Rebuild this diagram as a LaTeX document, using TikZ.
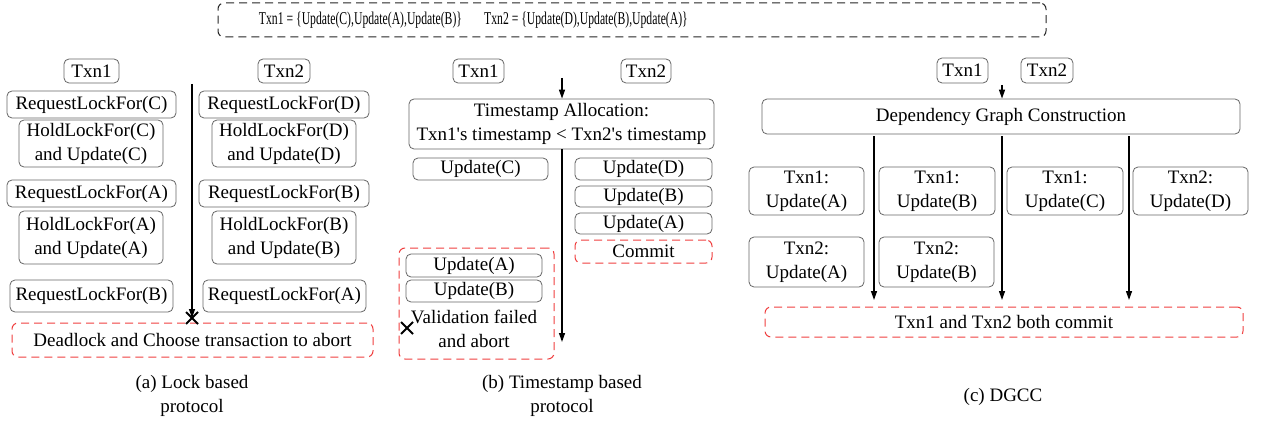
\documentclass[tikz,border=0pt]{standalone}
\usepackage{fontspec}
\setmainfont{Liberation Serif}
\newfontfamily\condfont[FakeStretch=0.65]{Liberation Serif}
\usetikzlibrary{arrows.meta}
\definecolor{boxgray}{HTML}{666666}
\definecolor{dashred}{HTML}{F04040}
\tikzset{
  base/.style={inner sep=0pt, align=center, font=\fontsize{19}{24}\selectfont},
  gbox/.style={base, draw=boxgray, line width=0.8pt, rounded corners=5pt},
  rbox/.style={base, draw=dashred, line width=1pt, rounded corners=6pt, dash pattern=on 8pt off 5pt},
  topbox/.style={base, draw=black!85, line width=1pt, rounded corners=6pt, dash pattern=on 8pt off 5pt},
  txt/.style={base},
  toptxt/.style={inner sep=0pt, font=\condfont\fontsize{18}{20}\selectfont},
  flow/.style={line width=1.3pt, -{Triangle[length=9pt,width=6pt]}},
  xmark/.style={line width=1.8pt},
}
\newcommand{\bx}[6]{\node[#1, minimum width=#4pt, minimum height=#5pt] (#2) at #3 {#6};}
\begin{document}
\begin{tikzpicture}[x=1pt,y=-1pt]
\useasboundingbox[fill=white] (0,0) rectangle (1263,422);
% top box
\bx{topbox}{top}{(632,20)}{828}{34}{}
\node[toptxt] (topl) at (360.5,20.5) {Txn1 = \{Update(C),Update(A),Update(B)\}};
\node[toptxt] (topr) at (586,20.5) {Txn2 = \{Update(D),Update(B),Update(A)\}};

% ---------------- (a)
\bx{gbox}{a1}{(91.5,71)}{55}{24}{Txn1}
\bx{gbox}{a2}{(284,71)}{52}{24}{Txn2}
\bx{gbox}{a1r1}{(91.5,104.5)}{169}{27}{RequestLockFor(C)}
\bx{gbox}{a1h1}{(91,143.5)}{144}{47}{HoldLockFor(C)\\and Update(C)}
\bx{gbox}{a1r2}{(91.5,193.5)}{169}{27}{RequestLockFor(A)}
\bx{gbox}{a1h2}{(91,237.5)}{144}{53}{HoldLockFor(A)\\and Update(A)}
\bx{gbox}{a1r3}{(91.5,296)}{163}{32}{RequestLockFor(B)}
\bx{gbox}{a2r1}{(284,104.5)}{170}{27}{RequestLockFor(D)}
\bx{gbox}{a2h1}{(284,143.5)}{144}{47}{HoldLockFor(D)\\and Update(D)}
\bx{gbox}{a2r2}{(284,193.5)}{170}{27}{RequestLockFor(B)}
\bx{gbox}{a2h2}{(284,237.5)}{144}{53}{HoldLockFor(B)\\and Update(B)}
\bx{gbox}{a2r3}{(284.5,296)}{163}{32}{RequestLockFor(A)}
\bx{rbox}{adead}{(192.5,340)}{361}{34}{Deadlock and Choose transaction to abort}
\coordinate (astart) at (192,84);
\coordinate (aend) at (192,318);
\draw[flow] (astart) -- (aend);
\draw[xmark] ([shift={(-6,-6)}]aend) -- ([shift={(6,6)}]aend);
\draw[xmark] ([shift={(-6,6)}]aend) -- ([shift={(6,-6)}]aend);
\node[txt] (capa) at (192,396) {(a) Lock based\\protocol};

% ---------------- (b)
\bx{gbox}{b1}{(478.5,71)}{51}{24}{Txn1}
\bx{gbox}{b2}{(646,71)}{50}{24}{Txn2}
\bx{gbox}{bts}{(561.5,124)}{305}{50}{Timestamp Allocation:\\Txn1\textquotesingle s timestamp < Txn2\textquotesingle s timestamp}
\coordinate (bstart) at (562,78);
\draw[flow] (bstart) -- (bts.north -| bstart);
\coordinate (bend) at (562,342);
\draw[flow] (bts.south -| bend) -- (bend);
\bx{gbox}{bc}{(480.5,169)}{135}{22}{Update(C)}
\bx{gbox}{bd}{(643.5,169)}{137}{22}{Update(D)}
\bx{gbox}{bb}{(643.5,196.5)}{137}{21}{Update(B)}
\bx{gbox}{ba}{(643.5,223.5)}{137}{21}{Update(A)}
\bx{rbox}{bcommit}{(643.5,251.5)}{137}{23}{Commit}
\bx{rbox}{bfail}{(476.5,303.5)}{155}{111}{}
\bx{gbox}{bua}{(474,265.5)}{136}{23}{Update(A)}
\bx{gbox}{bub}{(474,291)}{136}{22}{Update(B)}
\node[txt] (bval) at (474,329) {Validation failed\\and abort};
\coordinate (bx) at (407,328);
\draw[xmark] ([shift={(-6,-6)}]bx) -- ([shift={(6,6)}]bx);
\draw[xmark] ([shift={(-6,6)}]bx) -- ([shift={(6,-6)}]bx);
\node[txt] (capb) at (562,396) {(b) Timestamp based\\protocol};

% ---------------- (c)
\bx{gbox}{c1}{(962.5,70.5)}{51}{25}{Txn1}
\bx{gbox}{c2}{(1047,70.5)}{52}{25}{Txn2}
\bx{gbox}{cdep}{(1001,116.5)}{478}{35}{Dependency Graph Construction}
\coordinate (cstart) at (1002,85);
\draw[flow] (cstart) -- (cdep.north -| cstart);
\bx{gbox}{ca1}{(806.5,191)}{115}{48}{Txn1:\\Update(A)}
\bx{gbox}{cb1}{(937,191)}{116}{48}{Txn1:\\Update(B)}
\bx{gbox}{cc1}{(1065,191)}{116}{48}{Txn1:\\Update(C)}
\bx{gbox}{cd2}{(1190.5,191)}{115}{48}{Txn2:\\Update(D)}
\bx{gbox}{ca2}{(806.5,262)}{115}{50}{Txn2:\\Update(A)}
\bx{gbox}{cb2}{(936.5,262)}{115}{50}{Txn2:\\Update(B)}
\bx{rbox}{ccommit}{(1004,322)}{478}{30}{Txn1 and Txn2 both commit}
\coordinate (ce1) at (874,300);
\coordinate (ce2) at (1002,300);
\coordinate (ce3) at (1129,300);
\draw[flow] ([yshift=-2pt]cdep.south -| ce1) -- (ce1);
\draw[flow] ([yshift=-2pt]cdep.south -| ce2) -- (ce2);
\draw[flow] ([yshift=-2pt]cdep.south -| ce3) -- (ce3);
\node[txt] (capc) at (1003,397) {(c) DGCC};
\end{tikzpicture}
\end{document}
